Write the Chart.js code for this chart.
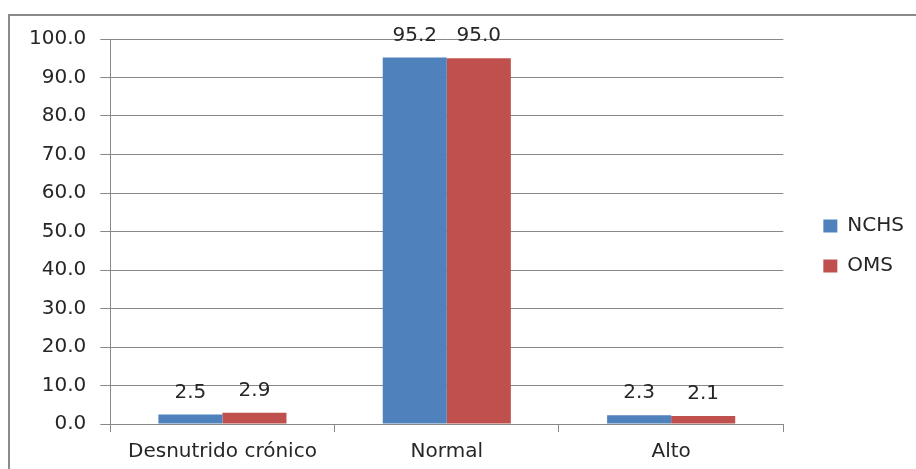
<!DOCTYPE html>
<html>
<head>
<meta charset="utf-8">
<script src="https://cdn.jsdelivr.net/npm/chart.js@4/dist/chart.umd.min.js"></script>
<style>
  html, body { margin: 0; padding: 0; background: #fff; overflow: hidden; }
  #frame {
    position: absolute; left: 8px; top: 14px;
    width: 920px; height: 470px;
    border-left: 2px solid #8a8a8a; border-top: 2px solid #8a8a8a;
  }
  #wrap { position: absolute; left: 0; top: -3px; width: 906px; height: 465px; }
</style>
</head>
<body>
<div id="frame"><div id="wrap"><canvas id="c"></canvas></div></div>
<script>
// Talla para la edad: porcentaje por categoría según patrón de referencia
const categories = ['Desnutrido crónico', 'Normal', 'Alto'];
const nchsValues = [2.5, 95.2, 2.3];
const omsValues = [2.9, 95.0, 2.1];
const yTicks = [0, 10, 20, 30, 40, 50, 60, 70, 80, 90, 100];

const FONT = 'DejaVu Sans';
const TEXT = '#262626';
const LINE = '#888888';

// Writes each bar's value above it
const valueLabels = {
  id: 'valueLabels',
  afterDatasetsDraw(chart) {
    const ctx = chart.ctx;
    ctx.save();
    ctx.font = '20px "' + FONT + '"';
    ctx.fillStyle = TEXT;
    ctx.textAlign = 'center';
    ctx.textBaseline = 'middle';
    chart.data.datasets.forEach((ds, i) => {
      chart.getDatasetMeta(i).data.forEach((bar, j) => {
        ctx.fillText(ds.data[j].toFixed(1), bar.x, bar.y - 22);
      });
    });
    ctx.restore();
  }
};

// Leaves a wider gap between the plot and the legend entries
const legendGap = {
  id: 'legendGap',
  afterLayout(chart) {
    if (chart.legend) {
      chart.legend.left += 20;
      chart.legend.right += 20;
    }
  }
};

new Chart(document.getElementById('c'), {
  type: 'bar',
  data: {
    labels: categories,
    datasets: [
      { label: 'NCHS', data: nchsValues, backgroundColor: '#4F81BD' },
      { label: 'OMS', data: omsValues, backgroundColor: '#C0504D' }
    ]
  },
  options: {
    responsive: true,
    maintainAspectRatio: false,
    animation: false,
    events: [],
    layout: { padding: { left: 5, top: 7, right: 22, bottom: 6 } },
    datasets: { bar: { categoryPercentage: 0.571, barPercentage: 1.0 } },
    scales: {
      x: {
        grid: { drawOnChartArea: false, drawTicks: true, tickLength: 8, color: LINE, offset: true },
        border: { color: LINE, width: 1 },
        ticks: { color: TEXT, font: { family: FONT, size: 20 }, padding: 8, maxRotation: 0 }
      },
      y: {
        min: 0, max: 100,
        afterBuildTicks(axis) { axis.ticks = yTicks.map(v => ({ value: v })); },
        grid: { color: LINE, tickLength: 10, drawTicks: true },
        border: { color: LINE, width: 1 },
        ticks: {
          color: TEXT, font: { family: FONT, size: 20 }, padding: 14,
          callback: v => Number(v).toFixed(1)
        }
      }
    },
    plugins: {
      legend: {
        position: 'right',
        labels: {
          color: TEXT, font: { family: FONT, size: 20 },
          boxWidth: 14, boxHeight: 13, padding: 20
        }
      },
      tooltip: { enabled: false }
    }
  },
  plugins: [valueLabels, legendGap]
});
</script>
</body>
</html>
